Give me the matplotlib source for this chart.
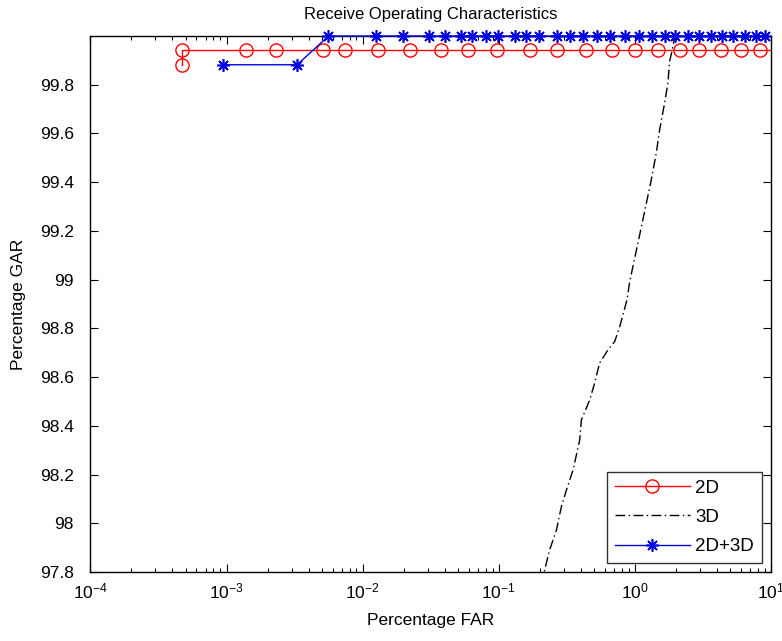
import matplotlib
matplotlib.use("Agg")
import matplotlib.pyplot as plt
from matplotlib.ticker import FixedLocator, LogLocator, NullFormatter

plt.rcParams['font.family'] = ['Liberation Sans', 'DejaVu Sans']

# 2D series (red circles); last x is beyond the axis so the line runs to the edge
far_2d = [4.7e-4, 4.7e-4, 1.40e-3, 2.29e-3, 5.08e-3, 7.4e-3, 0.0129, 0.0222, 0.0379,
          0.0594, 0.0966, 0.169, 0.267, 0.437, 0.683, 0.998, 1.47, 2.13, 2.94,
          4.26, 6.0, 8.3, 12.0]
gar_2d = [99.882, 99.941, 99.941, 99.941, 99.941, 99.941, 99.941, 99.941, 99.941,
          99.941, 99.941, 99.941, 99.941, 99.941, 99.941, 99.941, 99.941, 99.941, 99.941,
          99.941, 99.941, 99.941, 99.941]

# 3D series (black dash-dot)
far_3d = [0.205, 0.217, 0.236, 0.265, 0.288, 0.314, 0.351, 0.393, 0.404, 0.465, 0.506,
          0.550, 0.634, 0.710, 0.773, 0.874, 0.915, 1.052, 1.178, 1.319, 1.436,
          1.518, 1.652, 1.747, 1.797, 1.883, 1.96, 12.0]
gar_3d = [97.75, 97.808, 97.890, 97.972, 98.068, 98.137, 98.219, 98.342, 98.424, 98.506, 98.576,
          98.658, 98.712, 98.746, 98.807, 98.917, 98.992, 99.150, 99.280, 99.410, 99.521,
          99.615, 99.725, 99.807, 99.896, 99.944, 100.0, 100.0]

# 2D+3D series (blue asterisks)
far_23 = [9.4e-4, 3.3e-3, 5.6e-3, 0.0126, 0.0198, 0.0307, 0.0401, 0.0525, 0.063,
          0.080, 0.0987, 0.131, 0.158, 0.197, 0.267, 0.332, 0.415, 0.526, 0.652,
          0.840, 1.07, 1.34, 1.65, 1.96, 2.45, 2.94, 3.60, 4.39, 5.25, 6.40, 7.70, 8.96]
gar_23 = [99.882, 99.882] + [100.0] * 30

y_ticks = [97.8, 98.0, 98.2, 98.4, 98.6, 98.8, 99.0, 99.2, 99.4, 99.6, 99.8]
y_labels = ['97.8', '98', '98.2', '98.4', '98.6', '98.8', '99', '99.2', '99.4', '99.6', '99.8']

fig = plt.figure(figsize=(7.82, 6.41), dpi=100)
ax = fig.add_axes([0.1157, 0.1076, 0.8703, 0.8362])

ax.plot(far_2d, gar_2d, color='red', lw=1, marker='o', mfc='none', mec='red',
        ms=9.5, mew=1, markevery=slice(0, len(far_2d) - 1), label='2D', zorder=3)
ax.plot(far_3d, gar_3d, color='black', lw=1, linestyle=(0, (7, 2.5, 1, 2.5)),
        label='3D', zorder=2)
ax.plot(far_23, gar_23, color='#0000e0', lw=1, marker=(8, 2, 0), ms=9, mew=1.2,
        mec='#0000e0', label='2D+3D', clip_on=False, zorder=4)

ax.set_xscale('log')
ax.set_xlim(1e-4, 10)
ax.set_ylim(97.8, 100.0)
ax.yaxis.set_major_locator(FixedLocator(y_ticks))
ax.set_yticklabels(y_labels)
ax.xaxis.set_major_locator(LogLocator(base=10, numticks=10))
ax.xaxis.set_minor_locator(LogLocator(base=10, subs=range(2, 10), numticks=20))
ax.xaxis.set_minor_formatter(NullFormatter())

ax.tick_params(which='both', direction='in', top=True, right=True, labelsize=12.5,
               width=0.8, colors='black')
ax.tick_params(axis='y', pad=12)
ax.tick_params(axis='x', pad=7)
ax.tick_params(which='major', length=6)
ax.tick_params(which='minor', length=3)
for s in ax.spines.values():
    s.set_linewidth(1.0)

ax.set_title('Receive Operating Characteristics', fontsize=12, pad=12)
ax.set_xlabel('Percentage FAR', fontsize=12.5, labelpad=8)
ax.set_ylabel('Percentage GAR', fontsize=12.5, labelpad=10)

leg = ax.legend(loc='lower right', fontsize=13.5, handlelength=4.0, frameon=True,
                fancybox=False, edgecolor='black', borderaxespad=0.5,
                labelspacing=0.65, handletextpad=0.3, borderpad=0.4)
leg.get_frame().set_linewidth(1.0)

fig.savefig('out.png', dpi=100)
